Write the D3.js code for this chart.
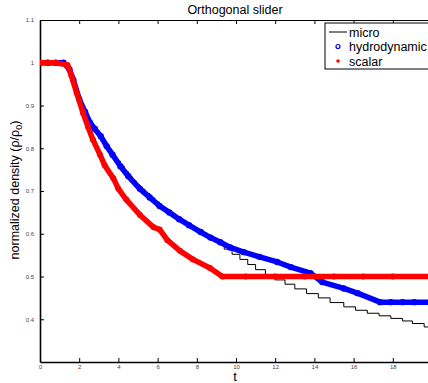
<!DOCTYPE html>
<html>
<head>
<meta charset="utf-8">
<script src="https://cdn.jsdelivr.net/npm/d3@7"></script>
<style>
  body { margin: 0; background: #fff; }
  svg { display: block; font-family: "Liberation Sans", Arial, sans-serif; }
  .tick text { font-size: 6px; fill: #444; }
</style>
</head>
<body>
<div id="chart"></div>
<script>
// micro simulation (staircase)
const microT = [0, 1.2, 1.3, 1.4, 1.5, 1.6, 1.7, 1.8, 1.9, 2.0, 2.1, 2.2, 2.3, 2.4, 2.55, 2.7, 2.85, 3.0, 3.15, 3.3, 3.45, 3.6, 3.75, 3.9, 4.1, 4.3, 4.5, 4.7, 4.9, 5.1, 5.35, 5.6, 5.85, 6.1, 6.35, 6.6, 6.85, 7.1, 7.35, 7.6, 7.9, 8.2, 8.5, 8.8, 9.1, 9.4, 9.8, 10.2, 10.6, 11.0, 11.5, 12.0, 12.5, 13.0, 13.6, 14.2, 14.8, 15.5, 16.1, 16.7, 17.3, 17.9, 18.5, 19.0, 19.6, 19.9];
const microRho = [1.0, 0.998, 0.995, 0.99, 0.982, 0.97, 0.955, 0.94, 0.925, 0.91, 0.9, 0.89, 0.88, 0.87, 0.858, 0.847, 0.838, 0.83, 0.82, 0.81, 0.8, 0.79, 0.78, 0.77, 0.758, 0.746, 0.734, 0.724, 0.714, 0.704, 0.694, 0.684, 0.674, 0.664, 0.656, 0.648, 0.64, 0.632, 0.625, 0.618, 0.61, 0.602, 0.594, 0.585, 0.576, 0.564, 0.552, 0.54, 0.528, 0.516, 0.504, 0.492, 0.482, 0.471, 0.46, 0.45, 0.439, 0.429, 0.421, 0.414, 0.408, 0.402, 0.396, 0.39, 0.382, 0.382];

// hydrodynamic model
const hydroT = [0, 0.4, 0.8, 1.2, 1.5, 1.7, 2.0, 2.3, 2.55, 2.8, 3.1, 3.4, 3.7, 4.1, 4.5, 5.1, 5.6, 6.1, 6.6, 7.1, 7.6, 8.2, 8.7, 9.2, 9.7, 10.4, 11.2, 12.1, 12.8, 13.8, 14.4, 15.5, 16.2, 17.35, 17.9, 18.5, 19.1, 19.9];
const hydroRho = [1.0, 1.0, 1.0, 1.0, 0.985, 0.96, 0.915, 0.885, 0.86, 0.845, 0.828, 0.805, 0.785, 0.758, 0.735, 0.705, 0.685, 0.665, 0.65, 0.634, 0.62, 0.604, 0.591, 0.58, 0.568, 0.557, 0.546, 0.534, 0.522, 0.508, 0.487, 0.472, 0.461, 0.44, 0.44, 0.44, 0.44, 0.44];

// scalar model
const scalarT = [0, 0.4, 0.8, 1.4, 1.6, 1.87, 2.2, 2.45, 2.7, 3.06, 3.3, 3.74, 4.0, 4.4, 5.1, 5.8, 6.1, 6.5, 7.14, 7.8, 8.67, 9.3, 10.5, 12, 13.5, 15, 16.5, 18, 19.9];
const scalarRho = [1.0, 1.0, 1.0, 0.995, 0.97, 0.93, 0.882, 0.85, 0.82, 0.785, 0.76, 0.73, 0.705, 0.68, 0.644, 0.615, 0.61, 0.585, 0.56, 0.54, 0.52, 0.5, 0.5, 0.5, 0.5, 0.5, 0.5, 0.5, 0.5];

const xTicks = [0, 2, 4, 6, 8, 10, 12, 14, 16, 18];
const yTicks = [0.4, 0.5, 0.6, 0.7, 0.8, 0.9, 1, 1.1];

const margin = { top: 20, right: -4, bottom: 21, left: 40 };
const width = 428, height = 383;
const innerW = width - margin.left - margin.right;
const innerH = height - margin.top - margin.bottom;

const svg = d3.select('#chart').append('svg')
    .attr('width', width)
    .attr('height', height);

const g = svg.append('g')
    .attr('transform', `translate(${margin.left},${margin.top})`);

const x = d3.scaleLinear().domain([0, 20]).range([0, innerW]);
const y = d3.scaleLinear().domain([0.3, 1.1]).range([innerH, 0]);

const zip = (ts, vs) => ts.map((t, i) => ({ t: t, v: vs[i] }));
const micro = zip(microT, microRho);
const hydro = zip(hydroT, hydroRho);
const scalar = zip(scalarT, scalarRho);

// axes (ticks point inward, like matlab)
g.append('g')
    .attr('transform', `translate(0,${innerH})`)
    .call(d3.axisBottom(x).tickValues(xTicks).tickSize(-4).tickPadding(3).tickSizeOuter(0))
    .call(a => a.select('.domain').attr('stroke-width', 1.6));

g.append('g')
    .call(d3.axisTop(x).tickValues(xTicks).tickSize(-4).tickFormat('').tickSizeOuter(0))
    .call(a => a.select('.domain').attr('stroke-width', 1));

g.append('g')
    .call(d3.axisLeft(y).tickValues(yTicks).tickSize(-4).tickPadding(6).tickSizeOuter(0)
        .tickFormat(d => d3.format('')(+d.toFixed(1))))
    .call(a => a.select('.domain').attr('stroke-width', 1.6));

g.append('g')
    .attr('transform', `translate(${innerW},0)`)
    .call(d3.axisRight(y).tickValues(yTicks).tickSize(-4).tickFormat('').tickSizeOuter(0));

g.append('clipPath').attr('id', 'plot-clip')
    .append('rect').attr('width', innerW).attr('height', innerH);

const plot = g.append('g').attr('clip-path', 'url(#plot-clip)');

const line = d3.line().x(d => x(d.t)).y(d => y(d.v));

// micro
plot.append('path')
    .datum(micro)
    .attr('fill', 'none')
    .attr('stroke', '#000')
    .attr('stroke-width', 1)
    .attr('d', d3.line().x(d => x(d.t)).y(d => y(d.v)).curve(d3.curveStepAfter));

// hydrodynamic
plot.append('path')
    .datum(hydro)
    .attr('fill', 'none')
    .attr('stroke', '#0000ff')
    .attr('stroke-width', 5.5)
    .attr('stroke-linejoin', 'round')
    .attr('d', line);

plot.append('g').selectAll('circle')
    .data(hydro)
    .join('circle')
    .attr('cx', d => x(d.t))
    .attr('cy', d => y(d.v))
    .attr('r', 2.6)
    .attr('fill', 'none')
    .attr('stroke', '#0000ff')
    .attr('stroke-width', 1.2);

// scalar
plot.append('path')
    .datum(scalar)
    .attr('fill', 'none')
    .attr('stroke', '#ff0000')
    .attr('stroke-width', 5.5)
    .attr('stroke-linejoin', 'round')
    .attr('d', line);

plot.append('g').selectAll('circle')
    .data(scalar)
    .join('circle')
    .attr('cx', d => x(d.t))
    .attr('cy', d => y(d.v))
    .attr('r', 3)
    .attr('fill', '#ff0000');

// title and labels
svg.append('text')
    .attr('x', 235).attr('y', 14)
    .attr('text-anchor', 'middle')
    .style('font-size', '12.5px')
    .text('Orthogonal slider');

svg.append('text')
    .attr('x', 235).attr('y', 381)
    .attr('text-anchor', 'middle')
    .style('font-size', '13px')
    .text('t');

const yl = svg.append('text')
    .attr('transform', 'translate(19,190) rotate(-90)')
    .attr('text-anchor', 'middle')
    .style('font-size', '12.5px');
yl.append('tspan').text('normalized density (ρ/ρ');
yl.append('tspan').attr('dy', 3).style('font-size', '9px').text('0');
yl.append('tspan').attr('dy', -3).text(')');

// legend
const legend = svg.append('g').attr('transform', 'translate(325,23)');
legend.append('rect')
    .attr('width', 108).attr('height', 46)
    .attr('fill', '#fff').attr('stroke', '#000').attr('stroke-width', 1);

const legendItems = ['micro', 'hydrodynamic', 'scalar'];
legendItems.forEach((name, i) => {
    const cy = 9 + i * 14.5;
    if (i === 0) {
        legend.append('line').attr('x1', 4).attr('x2', 22).attr('y1', cy).attr('y2', cy)
            .attr('stroke', '#000').attr('stroke-width', 1);
    } else if (i === 1) {
        legend.append('circle').attr('cx', 13).attr('cy', cy).attr('r', 2)
            .attr('fill', 'none').attr('stroke', '#0000ff').attr('stroke-width', 1.2);
    } else {
        legend.append('circle').attr('cx', 13).attr('cy', cy).attr('r', 1.8).attr('fill', '#ff0000');
    }
    legend.append('text')
        .attr('x', 24).attr('y', cy + 4.5)
        .style('font-size', '12.5px')
        .text(name);
});
</script>
</body>
</html>
